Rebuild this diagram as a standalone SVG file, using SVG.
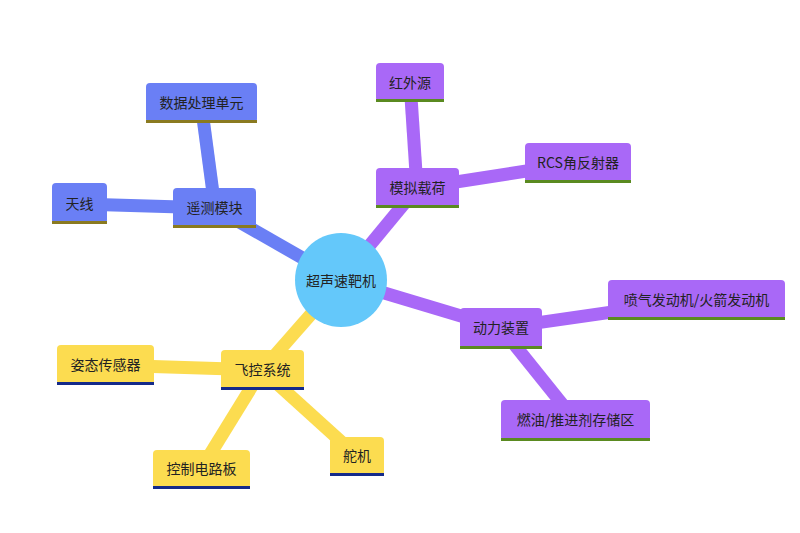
<svg xmlns="http://www.w3.org/2000/svg" width="800" height="533" viewBox="0 0 800 533">
<style>
text{font-family:"Noto Sans CJK SC","Noto Sans",sans-serif;font-size:14px;fill:#222;text-anchor:middle;dominant-baseline:central}
.b{fill:#6a7ff5}.p{fill:#a968f7}.y{fill:#fcdc50}
.lb{stroke:#6a7ff5}.lp{stroke:#a968f7}.ly{stroke:#fcdc50}
#connectors line{stroke-width:13;stroke-linecap:butt}
</style>
<rect width="800" height="533" fill="#fff"/>
<g id="connectors">
<line class="lb" x1="341" y1="280" x2="215" y2="208"/>
<line class="lb" x1="215" y1="208" x2="201" y2="103"/>
<line class="lb" x1="215" y1="208" x2="80" y2="204"/>
<line class="lp" x1="341" y1="280" x2="417" y2="188"/>
<line class="lp" x1="417" y1="188" x2="410" y2="82"/>
<line class="lp" x1="417" y1="188" x2="578" y2="163"/>
<line class="lp" x1="341" y1="280" x2="501" y2="328"/>
<line class="lp" x1="501" y1="328" x2="696" y2="300"/>
<line class="lp" x1="501" y1="328" x2="575" y2="420"/>
<line class="ly" x1="341" y1="280" x2="262" y2="370"/>
<line class="ly" x1="262" y1="370" x2="105" y2="365"/>
<line class="ly" x1="262" y1="370" x2="201" y2="469"/>
<line class="ly" x1="262" y1="370" x2="357" y2="456"/>
</g>
<g id="root"><ellipse cx="341" cy="280" rx="46" ry="47" fill="#64c8fa"/><text x="341" y="280">超声速靶机</text></g>
<g id="n1"><rect class="b" x="173" y="188" width="83" height="40" rx="4"/><rect x="173" y="225" width="83" height="3" fill="#8a7a20"/><text x="214.5" y="207">遥测模块</text></g>
<g id="n2"><rect class="b" x="146" y="83" width="111" height="40" rx="4"/><rect x="146" y="120" width="111" height="3" fill="#8a7a20"/><text x="201.5" y="102">数据处理单元</text></g>
<g id="n3"><rect class="b" x="52" y="183" width="55" height="41" rx="4"/><rect x="52" y="221" width="55" height="3" fill="#8a7a20"/><text x="79.5" y="203">天线</text></g>
<g id="n4"><rect class="p" x="376" y="168" width="83" height="40" rx="4"/><rect x="376" y="205" width="83" height="3" fill="#5a8a20"/><text x="417.5" y="187">模拟载荷</text></g>
<g id="n5"><rect class="p" x="376" y="63" width="68" height="39" rx="4"/><rect x="376" y="99" width="68" height="3" fill="#5a8a20"/><text x="410" y="82">红外源</text></g>
<g id="n6"><rect class="p" x="525" y="143" width="106" height="40" rx="4"/><rect x="525" y="180" width="106" height="3" fill="#5a8a20"/><text x="578" y="162">RCS角反射器</text></g>
<g id="n7"><rect class="p" x="460" y="308" width="82" height="41" rx="4"/><rect x="460" y="346" width="82" height="3" fill="#5a8a20"/><text x="501" y="327">动力装置</text></g>
<g id="n8"><rect class="p" x="608" y="280" width="177" height="40" rx="4"/><rect x="608" y="317" width="177" height="3" fill="#5a8a20"/><text x="696.5" y="299">喷气发动机/火箭发动机</text></g>
<g id="n9"><rect class="p" x="501" y="400" width="149" height="41" rx="4"/><rect x="501" y="438" width="149" height="3" fill="#5a8a20"/><text x="575.5" y="419">燃油/推进剂存储区</text></g>
<g id="n10"><rect class="y" x="221" y="350" width="83" height="40" rx="4"/><rect x="221" y="387" width="83" height="3" fill="#142a8a"/><text x="262.5" y="369">飞控系统</text></g>
<g id="n11"><rect class="y" x="57" y="345" width="97" height="40" rx="4"/><rect x="57" y="382" width="97" height="3" fill="#142a8a"/><text x="105.5" y="364">姿态传感器</text></g>
<g id="n12"><rect class="y" x="153" y="450" width="97" height="39" rx="4"/><rect x="153" y="486" width="97" height="3" fill="#142a8a"/><text x="201.5" y="468">控制电路板</text></g>
<g id="n13"><rect class="y" x="330" y="437" width="54" height="39" rx="4"/><rect x="330" y="473" width="54" height="3" fill="#142a8a"/><text x="357" y="455">舵机</text></g>
</svg>
